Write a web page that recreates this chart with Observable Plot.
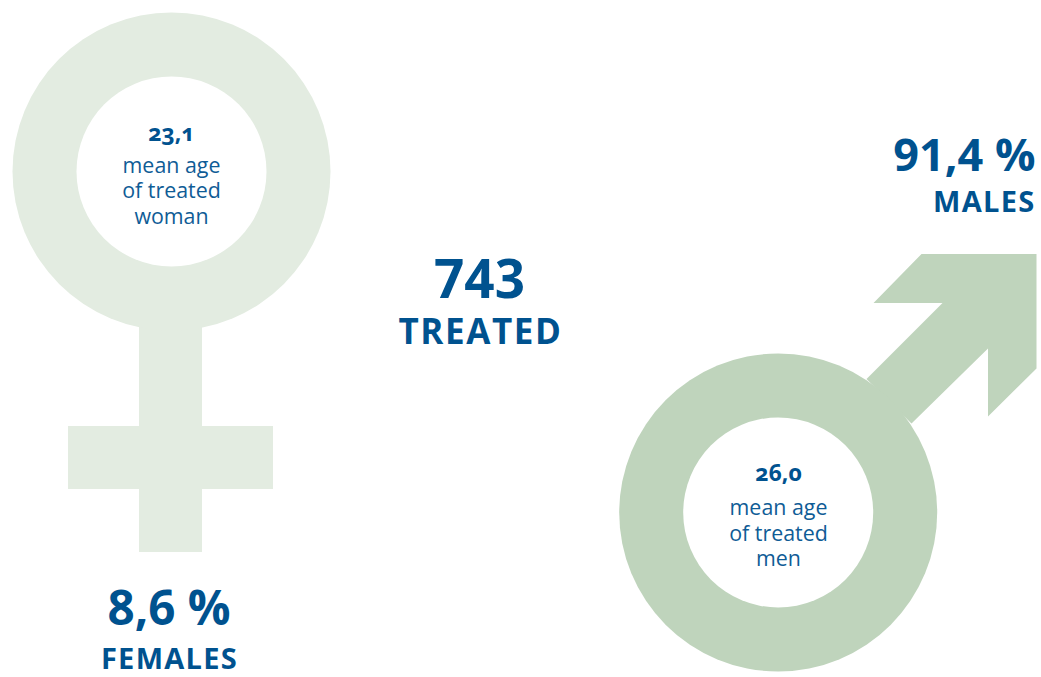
<!DOCTYPE html>
<html>
<head>
<meta charset="utf-8">
<script src="https://cdn.jsdelivr.net/npm/d3@7"></script>
<script src="https://cdn.jsdelivr.net/npm/@observablehq/plot@0.6"></script>
<style>
html,body{margin:0;padding:0;background:#fff;overflow:hidden}
svg{display:block}
.oldstyle text,text.oldstyle{font-variant-numeric:oldstyle-nums;font-feature-settings:"onum" 1}
.sp-total,.sp-total text{letter-spacing:1.6px}
.sp-sex,.sp-sex text{letter-spacing:1.3px}
</style>
</head>
<body>
<div id="chart"></div>
<script>
// Chart values
const sexes = ["FEMALES", "MALES"];
const sharePercent = [8.6, 91.4];
const meanAge = [23.1, 26.0];
const ageLabels = [["mean age", "of treated", "woman"], ["mean age", "of treated", "men"]];
const totalTreated = 743;
const totalLabel = "TREATED";

const comma = (v) => v.toFixed(1).replace(".", ",");

// Pictogram geometry in the canvas' own units
const femaleCentre = [171, 171];
const maleCentre = [777.7, 512];
const arrow = [
  [1036, 253.5], [921, 253.5], [873, 302.5], [942, 302.5], [866, 378.5],
  [911, 423], [987.5, 348], [987.5, 416], [1036, 368], [1036, 253.5]
];
const outerR = 159, innerR = 95;
const femaleFill = "#e3ece1", maleFill = "#bfd4bc", ink = "#00528f";
const font = "'Open Sans', 'Noto Sans', sans-serif";

const label = (text, x, y, size, weight, anchor = "middle", extra = {}) =>
  Plot.text([text], {
    x: () => x, y: () => y, text: (d) => d,
    fontSize: size, fontWeight: weight, fill: ink, fontFamily: font,
    textAnchor: anchor, lineAnchor: "bottom", ...extra
  });

const ageLines = (i, cx, ys) => ageLabels[i].map((t, j) => label(t, cx, ys[j], 21.4, 400, "middle", {fill: "#0f5c96"}));

const chart = Plot.plot({
  width: 1041, height: 677,
  margin: 0,
  x: {domain: [0, 1041], range: [0, 1041], axis: null},
  y: {domain: [0, 677], range: [0, 677], axis: null},
  marks: [
    // female symbol
    Plot.rect([0], {x1: () => 139, x2: () => 202, y1: () => 300, y2: () => 552, fill: femaleFill}),
    Plot.rect([0], {x1: () => 68, x2: () => 273, y1: () => 426, y2: () => 489, fill: femaleFill}),
    Plot.dot([femaleCentre], {x: (d) => d[0], y: (d) => d[1], r: outerR, fill: femaleFill}),
    Plot.dot([femaleCentre], {x: (d) => d[0], y: (d) => d[1], r: innerR, fill: "#fff"}),
    // male symbol
    Plot.line(arrow, {x: (d) => d[0], y: (d) => d[1], fill: maleFill, stroke: "none"}),
    Plot.dot([maleCentre], {x: (d) => d[0], y: (d) => d[1], r: outerR, fill: maleFill}),
    Plot.dot([maleCentre], {x: (d) => d[0], y: (d) => d[1], r: innerR, fill: "#fff"}),
    // centre total
    label(String(totalTreated), 479, 297, 53, 700),
    label(totalLabel, 480, 343, 35, 700, "middle", {className: "sp-total"}),
    // female labels
    label(`${comma(sharePercent[0])} %`, 168.5, 624, 47.5, 700),
    label(sexes[0], 169, 668, 29, 700, "middle", {className: "sp-sex"}),
    label(comma(meanAge[0]), 171, 140, 23, 700, "middle", {className: "oldstyle"}),
    ...ageLines(0, 171, [172, 197, 223]),
    // male labels
    label(`${comma(sharePercent[1])} %`, 1035, 170, 45, 700, "end"),
    label(sexes[1], 1035, 211, 29, 700, "end", {className: "sp-sex"}),
    label(comma(meanAge[1]), 778, 480, 23, 700, "middle", {className: "oldstyle"}),
    ...ageLines(1, 778, [514, 540, 565])
  ]
});
document.getElementById("chart").append(chart);
</script>
</body>
</html>
